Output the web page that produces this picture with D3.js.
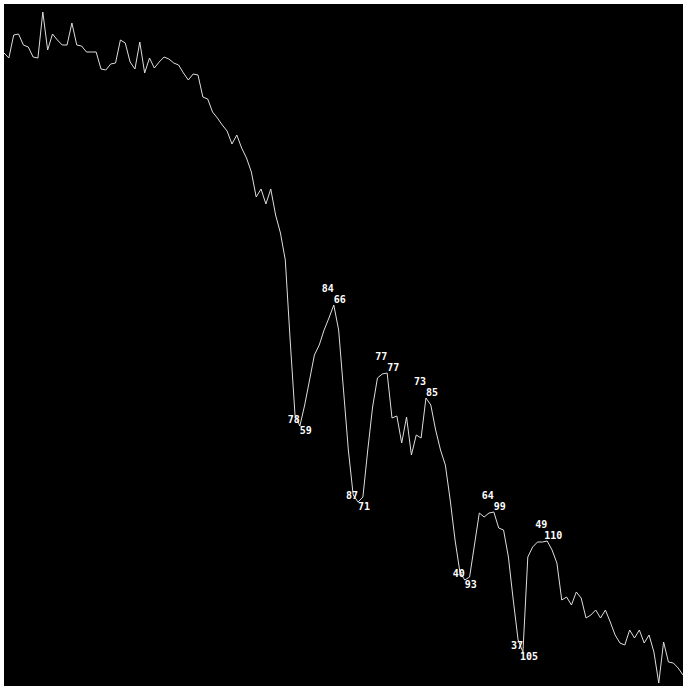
<!DOCTYPE html>
<html>
<head>
<meta charset="utf-8">
<script src="https://cdn.jsdelivr.net/npm/d3@7"></script>
<style>
  html, body { margin: 0; padding: 0; background: #ffffff; }
  svg { display: block; }
</style>
</head>
<body>
<div id="chart"></div>
<script>
// Sequence positions of the samples (step index)
const firstStep = -2;
const lastStep = 138;

// Sampled level at each step
const levels = [
  633, 628, 651, 652, 641, 639, 629, 628, 674, 636,
  652, 646, 641, 641, 663, 641, 640, 634, 634, 634,
  617, 616, 622, 623, 646, 643, 624, 617, 644, 613,
  628, 618, 624, 629, 627, 623, 621, 613, 606, 612,
  611, 589, 587, 574, 568, 561, 555, 542, 551, 538,
  528, 514, 489, 497, 482, 497, 471, 453, 426, 346,
  271, 260, 281, 306, 331, 341, 356, 368, 381, 356,
  296, 236, 191, 184, 189, 236, 279, 308, 312, 313,
  268, 270, 243, 269, 231, 251, 248, 288, 281, 256,
  236, 221, 186, 146, 114, 106, 109, 141, 173, 169,
  173, 174, 158, 156, 129, 86, 46, 34, 129, 139,
  144, 144, 145, 136, 123, 86, 89, 81, 94, 88,
  68, 71, 76, 68, 76, 64, 51, 43, 41, 56,
  48, 56, 43, 51, 34, 3, 44, 24, 23, 18,
  11
];

// Turning points: step, companion figure, and whether it is a peak
const turnSteps  = [59, 66, 71, 77, 85, 93, 99, 105, 110];
const turnFigure = [78, 84, 87, 77, 73, 40, 64, 37, 49];
const turnIsPeak = [false, true, false, true, true, false, true, false, true];

const W = 683, H = 686;
const plot = { left: 4, top: 4, right: 683, bottom: 686 };

const steps = d3.range(firstStep, lastStep + 1);
const data = steps.map((s, i) => ({ step: s, level: levels[i] }));

const x = d3.scaleLinear().domain([firstStep, lastStep]).range([plot.left, plot.right]);
const y = d3.scaleLinear().domain([0, 682]).range([plot.bottom, plot.top]);

const svg = d3.select("#chart").append("svg")
  .attr("width", W).attr("height", H);

svg.append("rect")
  .attr("x", plot.left).attr("y", plot.top)
  .attr("width", plot.right - plot.left).attr("height", plot.bottom - plot.top)
  .attr("fill", "#000000");

svg.append("path")
  .datum(data)
  .attr("fill", "none")
  .attr("stroke", "#dedede")
  .attr("stroke-width", 1)
  .attr("d", d3.line().x(d => x(d.step)).y(d => y(d.level)));

const byStep = new Map(data.map(d => [d.step, d]));
const turns = turnSteps.map((s, i) => ({
  step: s, figure: turnFigure[i], peak: turnIsPeak[i], pt: byStep.get(s)
}));

const labelFont = "'DejaVu Sans Mono', monospace";

const g = svg.append("g")
  .attr("font-family", labelFont)
  .attr("font-weight", "bold")
  .attr("font-size", 10)
  .attr("fill", "#ffffff")
  .attr("text-anchor", "middle")
  .attr("dominant-baseline", "central");

g.selectAll("text.fig").data(turns).join("text")
  .attr("class", "fig")
  .attr("x", d => x(d.step) - 6)
  .attr("y", d => y(d.pt.level) + (d.peak ? -17 : -7))
  .text(d => d.figure);

g.selectAll("text.stp").data(turns).join("text")
  .attr("class", "stp")
  .attr("x", d => x(d.step) + 6)
  .attr("y", d => y(d.pt.level) + (d.peak ? -6 : 4))
  .text(d => d.step);
</script>
</body>
</html>
